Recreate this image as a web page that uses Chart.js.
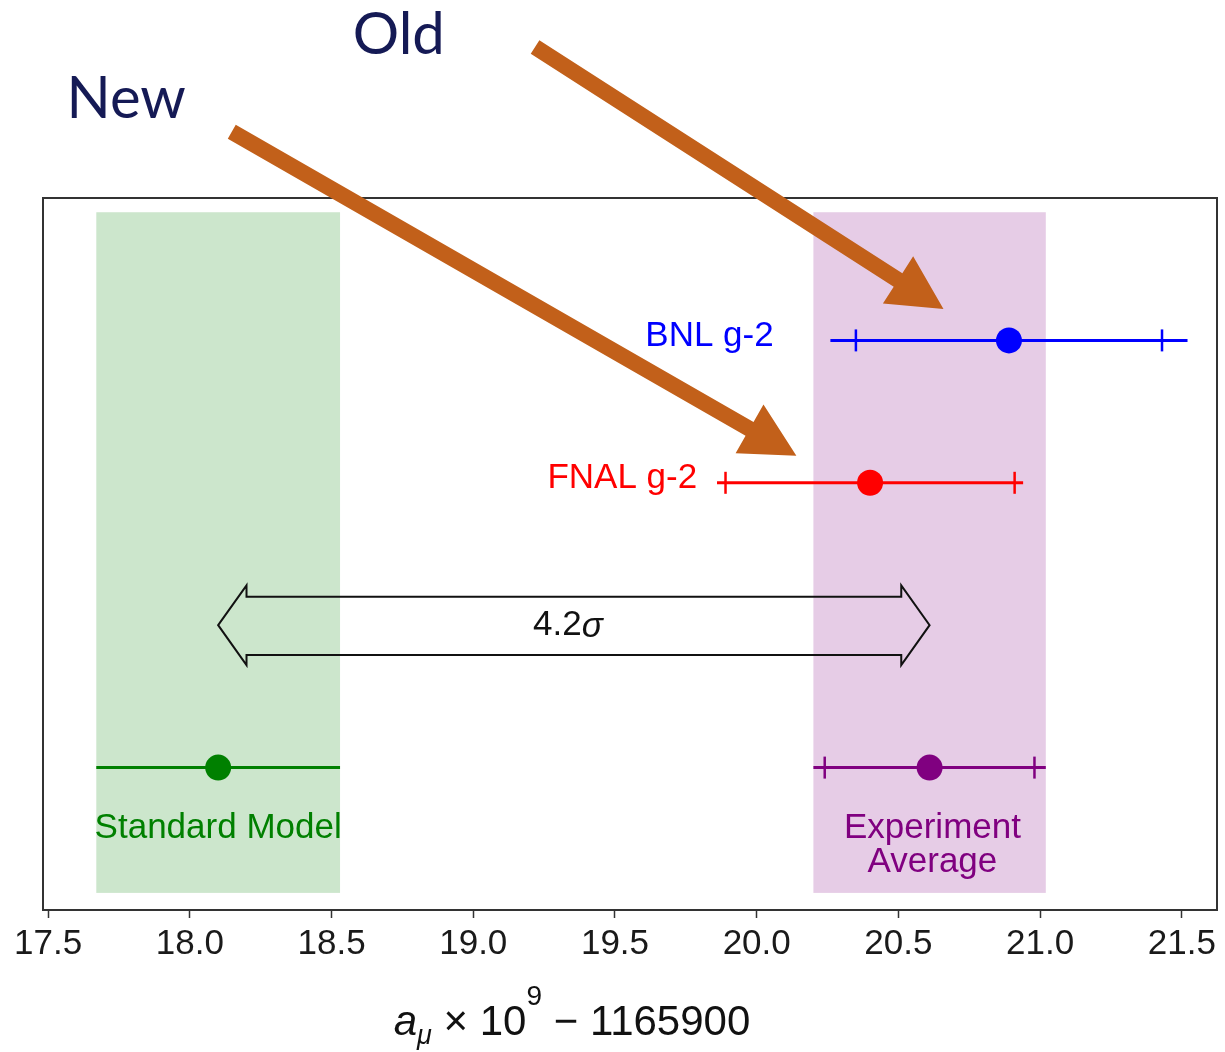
<!DOCTYPE html>
<html>
<head>
<meta charset="utf-8">
<script src="https://cdn.jsdelivr.net/npm/chart.js@4.4.1/dist/chart.umd.min.js"></script>
<style>
  html, body { margin: 0; padding: 0; background: #fff; }
  #wrap { width: 1225px; height: 1052px; position: relative; }
</style>
</head>
<body>
<div id="wrap"><canvas id="g2Chart"></canvas></div>
<script>
// muon g-2: a_mu x 1e9 - 1165900
const xTicks = [17.5, 18.0, 18.5, 19.0, 19.5, 20.0, 20.5, 21.0, 21.5];
const names = ['Standard Model', 'FNAL g-2', 'BNL g-2', 'Experiment Average'];
const central = [18.10, 20.40, 20.89, 20.61];
const errTotal = [0.43, 0.54, 0.63, 0.41];
const errInner = [null, 0.51, 0.54, 0.37];
const rows = [0.2, 0.6, 0.8, 0.2];
const colors = ['#008000', '#ff0000', '#0000ff', '#800080'];
const bandColors = ['rgba(0,128,0,0.2)', null, null, 'rgba(128,0,128,0.2)'];
const tensionText = '4.2';

const FONT = 'Liberation Sans';

const datasets = [];
central.forEach((c, i) => {
  // full error bar
  datasets.push({
    type: 'line',
    data: [{ x: c - errTotal[i], y: rows[i] }, { x: c + errTotal[i], y: rows[i] }],
    borderColor: colors[i],
    borderWidth: 3,
    pointRadius: 0,
    fill: false,
  });
  // inner caps
  if (errInner[i] != null) {
    datasets.push({
      type: 'scatter',
      data: [{ x: c - errInner[i], y: rows[i] }, { x: c + errInner[i], y: rows[i] }],
      pointStyle: 'line',
      rotation: 90,
      pointRadius: 11,
      borderColor: colors[i],
      borderWidth: 2.5,
    });
  }
  // central value
  datasets.push({
    type: 'scatter',
    data: [{ x: c, y: rows[i] }],
    pointRadius: 13,
    backgroundColor: colors[i],
    borderWidth: 0,
  });
});

function fatArrow(ctx, x0, y0, x1, y1, shaft, headLen, headHalf) {
  const len = Math.hypot(x1 - x0, y1 - y0);
  const ux = (x1 - x0) / len, uy = (y1 - y0) / len;
  const nx = -uy, ny = ux;
  const bx = x1 - ux * headLen, by = y1 - uy * headLen;
  ctx.beginPath();
  ctx.moveTo(x0 + nx * shaft / 2, y0 + ny * shaft / 2);
  ctx.lineTo(bx + nx * shaft / 2, by + ny * shaft / 2);
  ctx.lineTo(bx + nx * headHalf, by + ny * headHalf);
  ctx.lineTo(x1, y1);
  ctx.lineTo(bx - nx * headHalf, by - ny * headHalf);
  ctx.lineTo(bx - nx * shaft / 2, by - ny * shaft / 2);
  ctx.lineTo(x0 - nx * shaft / 2, y0 - ny * shaft / 2);
  ctx.closePath();
  ctx.fill();
}

const annotate = {
  id: 'annotate',
  beforeDatasetsDraw(chart) {
    const { ctx, scales: { x, y } } = chart;
    ctx.save();
    central.forEach((c, i) => {
      if (!bandColors[i]) return;
      const x0 = x.getPixelForValue(c - errTotal[i]);
      const x1 = x.getPixelForValue(c + errTotal[i]);
      const y0 = y.getPixelForValue(0.98);
      const y1 = y.getPixelForValue(0.024);
      ctx.fillStyle = bandColors[i];
      ctx.fillRect(x0, y0, x1 - x0, y1 - y0);
    });
    ctx.restore();
  },
  afterDatasetsDraw(chart) {
    const { ctx, scales: { x, y } } = chart;
    ctx.save();

    // double-headed arrow between SM and experiment
    const a = central[0], b = central[3], mid = 0.40;
    const head = 0.10;
    const pts = [
      [a, mid], [a + head, mid + 0.056], [a + head, mid + 0.04],
      [b - head, mid + 0.04], [b - head, mid + 0.056], [b, mid],
      [b - head, mid - 0.056], [b - head, mid - 0.042],
      [a + head, mid - 0.042], [a + head, mid - 0.056],
    ];
    ctx.beginPath();
    pts.forEach(([px, py], k) => {
      const X = x.getPixelForValue(px), Y = y.getPixelForValue(py);
      k ? ctx.lineTo(X, Y) : ctx.moveTo(X, Y);
    });
    ctx.closePath();
    ctx.lineWidth = 2;
    ctx.lineJoin = 'miter';
    ctx.strokeStyle = '#111';
    ctx.stroke();

    // 4.2 sigma
    ctx.textBaseline = 'middle';
    ctx.fillStyle = '#111';
    ctx.font = `35px "${FONT}"`;
    const w1 = ctx.measureText(tensionText).width;
    ctx.font = `italic 35px "${FONT}"`;
    const w2 = ctx.measureText('σ').width;
    const cx = x.getPixelForValue((a + b) / 2) - 6;
    const cy = y.getPixelForValue(mid);
    ctx.textAlign = 'left';
    ctx.font = `35px "${FONT}"`;
    ctx.fillText(tensionText, cx - (w1 + w2) / 2, cy);
    ctx.font = `italic 35px "${FONT}"`;
    ctx.fillText('σ', cx - (w1 + w2) / 2 + w1, cy + 2);

    // series labels
    ctx.font = `35px "${FONT}"`;
    ctx.textAlign = 'right';
    ctx.fillStyle = colors[2];
    ctx.fillText(names[2], x.getPixelForValue(20.06), y.getPixelForValue(rows[2] + 0.006));
    ctx.fillStyle = colors[1];
    ctx.fillText(names[1], x.getPixelForValue(19.79), y.getPixelForValue(rows[1] + 0.006));
    ctx.textAlign = 'center';
    ctx.fillStyle = colors[0];
    ctx.fillText(names[0], x.getPixelForValue(central[0]), y.getPixelForValue(0.115));
    ctx.fillStyle = colors[3];
    const [l1, l2] = names[3].split(' ');
    ctx.fillText(l1, x.getPixelForValue(central[3] + 0.01), y.getPixelForValue(0.115));
    ctx.fillText(l2, x.getPixelForValue(central[3] + 0.01), y.getPixelForValue(0.067));
    ctx.restore();
  },
  afterDraw(chart) {
    const { ctx, chartArea: ca, scales: { x, y } } = chart;
    ctx.save();

    // frame
    ctx.strokeStyle = '#333';
    ctx.lineWidth = 2;
    ctx.strokeRect(ca.left, ca.top, ca.right - ca.left, ca.bottom - ca.top);

    // axis title: a_mu x 10^9 - 1165900
    const runs = [
      { t: 'a', f: `italic 42px "${FONT}"`, dy: 0 },
      { t: 'μ', f: `italic 27px "${FONT}"`, dy: 9 },
      { t: ' × 10', f: `42px "${FONT}"`, dy: 0 },
      { t: '9', f: `28px "${FONT}"`, dy: -30 },
      { t: ' − 1165900', f: `42px "${FONT}"`, dy: 0 },
    ];
    let total = 0;
    runs.forEach(r => { ctx.font = r.f; r.w = ctx.measureText(r.t).width; total += r.w; });
    let tx = 572 - total / 2;
    const base = 1035;
    ctx.fillStyle = '#111';
    ctx.textAlign = 'left';
    ctx.textBaseline = 'alphabetic';
    runs.forEach(r => {
      ctx.font = r.f;
      ctx.fillText(r.t, tx, base + r.dy);
      tx += r.w;
    });

    // Old / New pointers
    ctx.fillStyle = '#c2601a';
    fatArrow(ctx,
      x.getPixelForValue(19.218), y.getPixelForValue(1.212),
      x.getPixelForValue(20.659), y.getPixelForValue(0.844), 16, 54, 28);
    fatArrow(ctx,
      x.getPixelForValue(18.148), y.getPixelForValue(1.093),
      x.getPixelForValue(20.140), y.getPixelForValue(0.638), 16, 54, 28);

    ctx.fillStyle = '#151a55';
    ctx.font = '58px Lato';
    ctx.fillText('Old', x.getPixelForValue(18.575), y.getPixelForValue(1.202));
    ctx.fillText('New', x.getPixelForValue(17.565), y.getPixelForValue(1.112));
    ctx.restore();
  },
};

new Chart(document.getElementById('g2Chart'), {
  type: 'scatter',
  data: { datasets },
  options: {
    responsive: true,
    maintainAspectRatio: false,
    animation: false,
    layout: { autoPadding: false, padding: { top: 198, left: 43, right: 8, bottom: 0 } },
    plugins: { legend: { display: false }, tooltip: { enabled: false } },
    scales: {
      x: {
        type: 'linear',
        min: 17.482,
        max: 21.624,
        afterBuildTicks: s => { s.ticks = xTicks.map(v => ({ value: v })); },
        afterFit: s => { s.height = 142; },
        ticks: {
          color: '#1a1a1a',
          font: { family: FONT, size: 35 },
          padding: 5,
          maxRotation: 0,
          autoSkip: false,
          callback: v => Number(v).toFixed(1),
        },
        grid: { drawOnChartArea: false, drawTicks: true, tickLength: 8, tickColor: '#333', tickWidth: 1.5 },
        border: { display: true, color: '#333', width: 2 },
      },
      y: { type: 'linear', min: 0, max: 1, display: false },
    },
  },
  plugins: [annotate],
});
</script>
</body>
</html>
